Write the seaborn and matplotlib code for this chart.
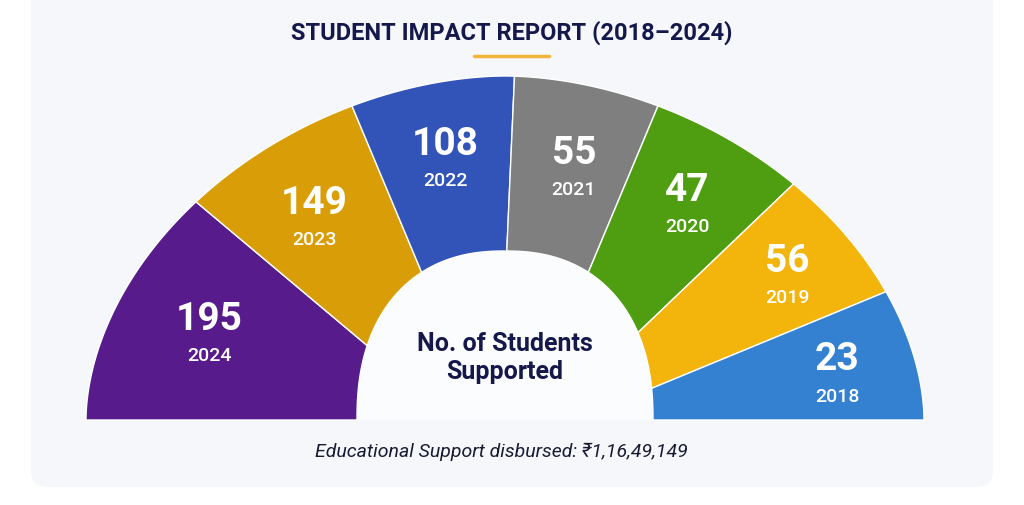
import numpy as np
import pandas as pd
import seaborn as sns
import matplotlib.pyplot as plt
from matplotlib.patches import FancyBboxPatch

# dane
years = ["2024", "2023", "2022", "2021", "2020", "2019", "2018"]
students = [195, 149, 108, 55, 47, 56, 23]
seg_colors = ["#581b8b", "#d99e07", "#3253b7", "#7f7f7f", "#4f9e12", "#f3b40c", "#3480d1"]

title = "STUDENT IMPACT REPORT (2018–2024)"
center_label = "No. of Students\nSupported"
footer = "Educational Support disbursed: ₹1,16,49,149"

df = pd.DataFrame({"year": years, "students": students, "color": seg_colors})

# uklad polkola (piksele)
cx, cy = 505, 421
outer_a, outer_b, outer_n = 419, 344, 1.85
inner_a, inner_b, inner_n = 148, 169, 2.3
outer_edges = [180, 139.3, 111.8, 88.7, 68.2, 44.9, 22.3, 0]
inner_edges = [180, 154.7, 122.8, 89.3, 57.2, 29.9, 10.7, 0]
label_xy = [(209, 319), (314, 203), (445, 144), (574, 153), (687, 190), (787, 261), (837, 360)]

navy = "#15184a"


def curve(a, b, n, deg):
    t = np.radians(deg)
    c, s = np.cos(t), np.sin(t)
    r = (np.abs(c) ** n + np.abs(s) ** n) ** (-1 / n)
    return cx + a * r * c, cy - b * r * s


sns.set_theme(style="white")
plt.rcParams['font.family'] = ['Roboto', 'DejaVu Sans']
palette = sns.color_palette(df["color"].tolist())

fig = plt.figure(figsize=(10.24, 5.06), dpi=100)
fig.patch.set_facecolor("white")
ax = fig.add_axes([0, 0, 1, 1])
ax.set_xlim(0, 1024)
ax.set_ylim(506, 0)
ax.axis("off")

card = FancyBboxPatch((31, -40), 962, 528, boxstyle="round,pad=0,rounding_size=16",
                      facecolor="#f5f7fb", edgecolor="none", zorder=0)
ax.add_patch(card)

# srodek polkola
hole = np.linspace(180, 0, 200)
hx, hy = curve(inner_a, inner_b, inner_n, hole)
ax.fill(hx, hy, color="#fbfcfe", zorder=1, lw=0)

for i, row in df.iterrows():
    o = np.linspace(outer_edges[i], outer_edges[i + 1], 80)
    n = np.linspace(inner_edges[i + 1], inner_edges[i], 80)
    ox, oy = curve(outer_a, outer_b, outer_n, o)
    ix, iy = curve(inner_a, inner_b, inner_n, n)
    ax.fill(np.concatenate([ox, ix]), np.concatenate([oy, iy]),
            facecolor=palette[i], edgecolor="white", lw=1.0, zorder=2)
    lx, ly = label_xy[i]
    ax.text(lx, ly, str(row["students"]), ha="center", va="center", color="white",
            fontsize=28, fontweight="bold", zorder=3)
    ax.text(lx, ly + 37, row["year"], ha="center", va="center", color="white",
            fontsize=14, fontweight="medium", zorder=3)

ax.text(512, 33, title, ha="center", va="center", color=navy, fontsize=17, fontweight="bold")
ax.plot([474, 549], [57, 57], color="#f2b53a", lw=2.5, solid_capstyle="round")
ax.text(505, 358, center_label, ha="center", va="center", color=navy, fontsize=18,
        fontweight="bold", linespacing=1.25)
ax.text(501, 452, footer, ha="center", va="center", color="#1a1a33", fontsize=14, style="italic")

plt.savefig("out.png", dpi=100)
